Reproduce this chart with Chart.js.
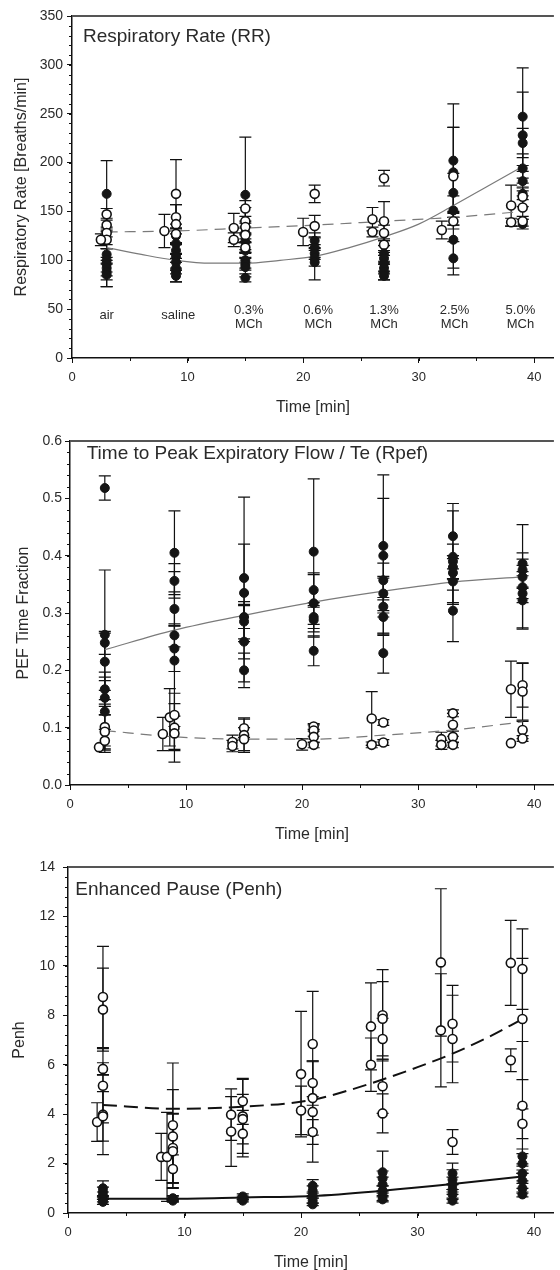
<!DOCTYPE html>
<html>
<head>
<meta charset="utf-8">
<script src="https://cdn.jsdelivr.net/npm/chart.js@4.4.0/dist/chart.umd.min.js"></script>
<style>
  html, body { margin: 0; padding: 0; background: #fff; width: 560px; height: 1270px; overflow: hidden; }
  .panel { position: absolute; left: 0; width: 560px; }
</style>
</head>
<body>
<div class="panel" style="top:0px"><canvas id="rr" width="560" height="420"></canvas></div>
<div class="panel" style="top:420px"><canvas id="rpef" width="560" height="430"></canvas></div>
<div class="panel" style="top:850px"><canvas id="penh" width="560" height="425"></canvas></div>
<script>
// points are [time, value, error]
const rrFilled = [
  [3,168,34],[3,106,10],[3,100,12],[3,96,16],[3,92,8],[3,88,15],[3,85,12],
  [9,125,8],[9,117,10],[9,110,8],[9,104,12],[9,98,8],[9,92,6],[9,88,10],[9,84,6],
  [15,167,59],[15,128,10],[15,119,8],[15,110,12],[15,100,8],[15,96,6],[15,93,10],[15,82,4],
  [21,120,8],[21,113,10],[21,107,6],[21,102,8],[21,98,18],
  [27,107,8],[27,102,6],[27,97,8],[27,92,6],[27,88,8],[27,84,4],
  [33,202,58],[33,190,46],[33,169,20],[33,151,15],[33,121,29],[33,102,17],
  [39,247,50],[39,228,44],[39,220,15],[39,194,15],[39,181,10],[39,168,6],[39,137,5]
];
const rrOpen = [
  [3,147,6],[3,136,7],[3,128,4],[3,121,9],[2.5,121,6],
  [8,130,17],[9,168,35],[9,144,13],[9,137,20],[9,127,10],
  [14,133,15],[14,121,7],[15,153,8],[15,140,14],[15,134,6],[15,126,8],[15,113,6],
  [20,129,14],[21,168,9],[21,135,11],
  [26,142,12],[26,129,5],[27,184,8],[27,140,20],[27,128,8],[27,116,6],
  [32,131,9],[33,186,50],[33,140,8],
  [38,156,21],[38,139,4],[39,165,10],[39,154,12],[39,140,5]
];
const rrFitSolid = [[3,113],[6,106],[9,100],[12,97],[15,97],[18,100],[21,104],[24,113],[27,124],[30,137],[33,156],[36,176],[39,196]];
const rrFitDashed = [[3,129],[9,130],[15,133],[21,136],[27,140],[33,144],[39,150]];
const stageX = [3, 9.2, 15.3, 21.3, 27, 33.1, 38.8];
const stageNames = [['air'], ['saline'], ['0.3%','MCh'], ['0.6%','MCh'], ['1.3%','MCh'], ['2.5%','MCh'], ['5.0%','MCh']];

const rpefFilled = [
  [3,0.518,0.021],[3,0.262,0.113],[3,0.248,0.02],[3,0.215,0.05],[3,0.167,0.03],[3,0.152,0.03],[3,0.128,0.06],
  [9,0.405,0.073],[9,0.356,0.03],[9,0.307,0.03],[9,0.261,0.02],[9,0.238,0.04],[9,0.217,0.155],
  [15,0.361,0.141],[15,0.335,0.085],[15,0.293,0.02],[15,0.285,0.03],[15,0.25,0.07],[15,0.2,0.03],
  [21,0.407,0.127],[21,0.34,0.03],[21,0.317,0.05],[21,0.293,0.02],[21,0.288,0.03],[21,0.234,0.026],
  [27,0.417,0.124],[27,0.40,0.1],[27,0.357,0.03],[27,0.334,0.03],[27,0.311,0.05],[27,0.293,0.03],[27,0.23,0.035],
  [33,0.434,0.057],[33,0.398,0.08],[33,0.39,0.03],[33,0.38,0.02],[33,0.37,0.03],[33,0.355,0.04],[33,0.304,0.054],
  [39,0.386,0.068],[39,0.375,0.03],[39,0.363,0.02],[39,0.345,0.02],[39,0.334,0.06],[39,0.322,0.05]
];
const rpefOpen = [
  [2.5,0.066,0],[3,0.101,0.04],[3,0.093,0.03],[3,0.077,0.02],
  [8,0.089,0.029],[8.6,0.118,0.05],[9,0.122,0.02],[9,0.10,0.06],[9,0.09,0.03],
  [14,0.075,0.012],[14,0.068,0.01],[15,0.099,0.016],[15,0.087,0.03],[15,0.08,0.02],
  [20,0.071,0.01],[21,0.102,0.005],[21,0.095,0.01],[21,0.084,0.01],[21,0.07,0.005],
  [26,0.116,0.047],[26,0.07,0.005],[27,0.109,0.005],[27,0.074,0.005],
  [32,0.08,0.012],[32,0.07,0.008],[33,0.125,0.006],[33,0.105,0.02],[33,0.084,0.01],[33,0.07,0.005],
  [38,0.167,0.049],[38,0.073,0],[39,0.174,0.038],[39,0.163,0.05],[39,0.096,0.015],[39,0.081,0.005]
];
const rpefFitSolid = [[3,0.236],[9,0.270],[15,0.296],[21,0.319],[27,0.338],[33,0.354],[39,0.363]];
const rpefFitDashed = [[3,0.095],[9,0.084],[15,0.08],[21,0.08],[27,0.087],[33,0.096],[39,0.110]];

const penhFilled = [
  [3,1.0,0.3],[3,0.85,0.2],[3,0.7,0.15],[3,0.55,0.1],[3,0.45,0.1],
  [9,0.6,0.1],[9,0.55,0.1],[9,0.5,0.05],
  [15,0.67,0.1],[15,0.6,0.08],[15,0.5,0.05],
  [21,1.1,0.25],[21,0.9,0.2],[21,0.7,0.1],[21,0.5,0.1],[21,0.35,0.05],
  [27,1.65,0.85],[27,1.4,0.3],[27,1.15,0.3],[27,0.9,0.2],[27,0.7,0.2],[27,0.55,0.1],
  [33,1.6,0.42],[33,1.35,0.4],[33,1.15,0.3],[33,0.95,0.2],[33,0.75,0.2],[33,0.5,0.1],
  [39,2.29,0.3],[39,2.0,0.4],[39,1.6,0.3],[39,1.3,0.3],[39,1.0,0.2],[39,0.75,0.1]
];
const penhOpen = [
  [2.5,3.68,0.78],[3,8.74,2.05],[3,8.23,1.68],[3,5.83,0.25],[3,5.15,1.5],[3,3.98,1.62],[3,3.91,1.0],
  [8,2.27,0.95],[8.5,2.27,1.8],[9,3.55,2.52],[9,3.10,1.89],[9,2.63,1.4],[9,2.5,1.5],[9,1.78,0.57],
  [14,3.98,1.04],[14,3.30,1.41],[15,4.52,0.93],[15,3.91,1.5],[15,3.8,1.0],[15,3.21,0.94],
  [20,5.62,2.54],[20,4.15,0.98],[21,6.84,2.13],[21,5.26,0.9],[21,4.65,1.5],[21,4.09,2.03],[21,3.28,0.5],
  [26,7.55,1.76],[26,6.0,1.08],[27,8.0,1.85],[27,7.86,1.5],[27,7.04,0.84],[27,5.13,1.1],[27,4.03,0.79],
  [32,10.14,2.98],[32,7.39,2.29],[33,7.66,1.55],[33,7.04,1.77],[33,2.87,0.5],
  [38,10.12,1.72],[38,6.18,0.46],[39,9.87,1.63],[39,7.85,2.45],[39,4.34,2.6],[39,3.61,0.6]
];
const penhFitSolid = [[3,0.58],[9,0.58],[15,0.63],[21,0.69],[27,0.9],[33,1.17],[39,1.48]];
const penhFitDashed = [[3,4.37],[9,4.22],[15,4.3],[21,4.58],[24,4.95],[27,5.4],[30,5.9],[33,6.45],[36,7.1],[39,7.85]];

const FONT = '"Liberation Sans", Arial, Helvetica, sans-serif';
const INK = '#2a2a2a';

const toPts = arr => arr.map(p => ({ x: p[0], y: p[1], e: p[2] || 0 }));

// vertical error bars with caps, drawn under the markers
const errorBars = {
  id: 'errorBars',
  beforeDatasetsDraw(chart) {
    const { ctx, scales: { x, y } } = chart;
    ctx.save();
    ctx.strokeStyle = '#111';
    ctx.lineWidth = 1.2;
    chart.data.datasets.forEach(ds => {
      if (!ds.errorBars) return;
      ds.data.forEach(p => {
        if (!p.e) return;
        const px = x.getPixelForValue(p.x);
        const top = y.getPixelForValue(p.y + p.e);
        const bot = y.getPixelForValue(p.y - p.e);
        ctx.beginPath();
        ctx.moveTo(px, top); ctx.lineTo(px, bot);
        ctx.moveTo(px - 6, top); ctx.lineTo(px + 6, top);
        ctx.moveTo(px - 6, bot); ctx.lineTo(px + 6, bot);
        ctx.stroke();
      });
    });
    ctx.restore();
  }
};

// minor ticks, top rule and the panel heading
const frame = {
  id: 'frame',
  afterDraw(chart, args, opts) {
    const { ctx, chartArea: a, scales: { x, y } } = chart;
    ctx.save();
    ctx.strokeStyle = '#111';
    ctx.lineWidth = 1;
    ctx.beginPath();
    for (let v = 0; v <= x.max; v += opts.xMinor) {
      const px = Math.round(x.getPixelForValue(v)) + 0.5;
      ctx.moveTo(px, a.bottom); ctx.lineTo(px, a.bottom + 3);
    }
    for (let v = y.min; v <= y.max + 1e-9; v += opts.yMinor) {
      const py = Math.round(y.getPixelForValue(v)) + 0.5;
      ctx.moveTo(a.left, py); ctx.lineTo(a.left - 3, py);
    }
    ctx.stroke();
    ctx.strokeStyle = '#555';
    ctx.lineWidth = 2;
    ctx.beginPath();
    ctx.moveTo(a.left, a.top); ctx.lineTo(a.right, a.top);
    ctx.stroke();
    ctx.fillStyle = INK;
    ctx.font = '19px ' + FONT;
    ctx.textAlign = 'left';
    ctx.textBaseline = 'middle';
    ctx.fillText(opts.title, a.left + opts.dx, a.top + opts.dy);
    if (opts.stages) {
      ctx.font = '13px ' + FONT;
      ctx.textAlign = 'center';
      const base = y.getPixelForValue(44);
      opts.stages.names.forEach((lines, i) => {
        const px = x.getPixelForValue(opts.stages.x[i]);
        if (lines.length === 1) ctx.fillText(lines[0], px, base);
        else { ctx.fillText(lines[0], px, base - 5); ctx.fillText(lines[1], px, base + 9); }
      });
    }
    ctx.restore();
  }
};

function makePanel(id, cfg) {
  const fitLine = (pts, color, width, dash) => ({
    data: pts.map(p => ({ x: p[0], y: p[1] })),
    showLine: true, pointRadius: 0, borderColor: color, borderWidth: width,
    borderDash: dash, cubicInterpolationMode: 'monotone', fill: false
  });
  return new Chart(document.getElementById(id), {
    type: 'scatter',
    data: {
      datasets: [
        { data: toPts(cfg.open), errorBars: true, pointRadius: 4.5, pointBorderWidth: 1.6,
          pointBackgroundColor: '#fff', pointBorderColor: '#111' },
        { data: toPts(cfg.filled), errorBars: true, pointRadius: 4.5, pointBorderWidth: 1,
          pointBackgroundColor: '#151515', pointBorderColor: '#151515' },
        fitLine(cfg.dashed, cfg.lineColor, cfg.lineWidth, cfg.dash),
        fitLine(cfg.solid, cfg.lineColor, cfg.lineWidth, [])
      ]
    },
    options: {
      responsive: false,
      animation: false,
      events: [],
      layout: { padding: { top: cfg.padTop, left: 0, right: 0, bottom: 0 } },
      plugins: {
        legend: { display: false },
        tooltip: { enabled: false },
        frame: cfg.frame
      },
      scales: {
        x: {
          type: 'linear', min: 0, max: 41.7,
          afterFit: s => { s.height = cfg.xHeight; },
          border: { color: '#111', width: 1.5 },
          grid: { display: true, drawOnChartArea: false, drawTicks: true, tickLength: 5, color: '#111' },
          ticks: { stepSize: 10, includeBounds: false, padding: 7, color: INK, font: { family: FONT, size: 13 } },
          title: { display: true, text: 'Time [min]', color: INK, font: { family: FONT, size: 16 },
                   padding: { top: 0, bottom: cfg.xTitlePad } }
        },
        y: {
          min: cfg.yMin, max: cfg.yMax,
          afterFit: s => { s.width = cfg.yWidth; },
          border: { color: '#111', width: 1.5 },
          grid: { display: true, drawOnChartArea: false, drawTicks: true, tickLength: 5, color: '#111' },
          ticks: { stepSize: cfg.yStep, padding: cfg.yTickPad, color: INK, font: { family: FONT, size: 14 },
                   callback: cfg.yFmt },
          title: { display: true, text: cfg.yTitle, color: INK, font: { family: FONT, size: 16 },
                   padding: { top: cfg.yTitlePad, bottom: 0 } }
        }
      }
    },
    plugins: [errorBars, frame]
  });
}

makePanel('rr', {
  filled: rrFilled, open: rrOpen, solid: rrFitSolid, dashed: rrFitDashed,
  lineColor: '#7a7a7a', lineWidth: 1.2, dash: [11, 7],
  padTop: 16, xHeight: 62, xTitlePad: 2.4, yWidth: 72, yTickPad: 4, yTitlePad: 12,
  yMin: 0, yMax: 350, yStep: 50, yFmt: v => String(v),
  yTitle: 'Respiratory Rate [Breaths/min]',
  frame: { xMinor: 5, yMinor: 10, title: 'Respiratory Rate (RR)', dx: 11, dy: 21,
           stages: { x: stageX, names: stageNames } }
});

makePanel('rpef', {
  filled: rpefFilled, open: rpefOpen, solid: rpefFitSolid, dashed: rpefFitDashed,
  lineColor: '#7a7a7a', lineWidth: 1.2, dash: [11, 7],
  padTop: 21, xHeight: 65, xTitlePad: 5.4, yWidth: 70, yTickPad: 3, yTitlePad: 13.7,
  yMin: 0, yMax: 0.6, yStep: 0.1, yFmt: v => v.toFixed(1),
  yTitle: 'PEF Time Fraction',
  frame: { xMinor: 5, yMinor: 0.02, title: 'Time to Peak Expiratory Flow / Te (Rpef)', dx: 16.7, dy: 12.3 }
});

makePanel('penh', {
  filled: penhFilled, open: penhOpen, solid: penhFitSolid, dashed: penhFitDashed,
  lineColor: '#111', lineWidth: 2, dash: [14, 7],
  padTop: 17, xHeight: 62, xTitlePad: 2.4, yWidth: 68, yTickPad: 8, yTitlePad: 10.4,
  yMin: 0, yMax: 14, yStep: 2, yFmt: v => String(v),
  yTitle: 'Penh',
  frame: { xMinor: 5, yMinor: 0.4, title: 'Enhanced Pause (Penh)', dx: 7.3, dy: 22.3 }
});
</script>
</body>
</html>
